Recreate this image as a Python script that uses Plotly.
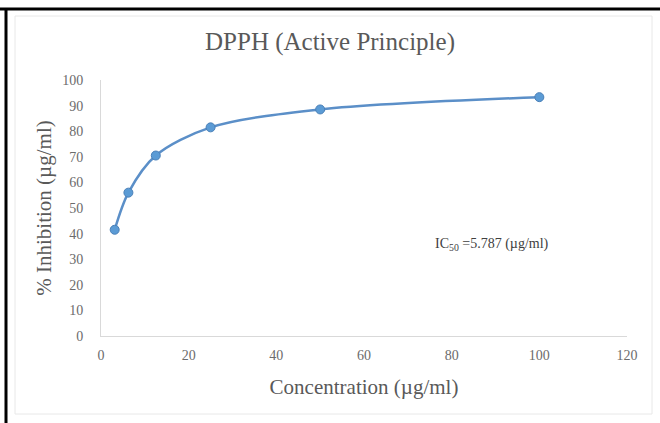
import plotly.graph_objects as go

concentration = [3.125, 6.25, 12.5, 25, 50, 100]
inhibition = [41.5, 56.0, 70.5, 81.5, 88.5, 93.3]
x_ticks = [0, 20, 40, 60, 80, 100, 120]
y_ticks = [0, 10, 20, 30, 40, 50, 60, 70, 80, 90, 100]

W, H = 660, 423
L, R, T, B = 101, 33, 80, 87
pw, ph = W - L - R, H - T - B

def px(x):
    return (x - L) / pw

def py(y):
    return (H - B - y) / ph

serif = "Liberation Serif, Times New Roman, serif"
gray = "#595959"
tick_gray = "#6b6b6b"

fig = go.Figure()
fig.add_trace(go.Scatter(
    x=concentration, y=inhibition, mode="lines+markers",
    line=dict(color="#5b8fc8", width=2.5, shape="spline", smoothing=0.9),
    marker=dict(color="#5b9bd5", size=9, line=dict(color="#4a80b8", width=1)),
    showlegend=False, cliponaxis=False,
))

fig.update_layout(
    width=W, height=H,
    margin=dict(l=L, r=R, t=T, b=B),
    paper_bgcolor="white", plot_bgcolor="white",
    font=dict(family=serif, color=gray),
    title=dict(text="DPPH (Active Principle)", x=0.5, xanchor="center",
               y=1 - 41 / H, yanchor="middle",
               font=dict(family=serif, size=25, color=gray)),
    xaxis=dict(range=[0, 120], tickvals=x_ticks, showgrid=False, zeroline=False,
               showline=True, linecolor="#d9d9d9", linewidth=1, ticks="",
               ticklabelstandoff=6,
               tickfont=dict(family=serif, size=14, color=tick_gray),
               title=dict(text="Concentration (µg/ml)", standoff=17,
                          font=dict(family=serif, size=21, color=gray))),
    yaxis=dict(range=[0, 100], tickvals=y_ticks, showgrid=False, zeroline=False,
               showline=True, linecolor="#d9d9d9", linewidth=1, ticks="",
               ticklabelstandoff=14,
               tickfont=dict(family=serif, size=14, color=tick_gray),
               title=dict(text="% Inhibition (µg/ml)", standoff=4,
                          font=dict(family=serif, size=21, color=gray))),
    annotations=[dict(
        text="IC<sub>50</sub> =5.787 (µg/ml)", x=px(433), y=py(244),
        xref="paper", yref="paper", xanchor="left", yanchor="middle",
        showarrow=False, font=dict(family=serif, size=14, color="#404040"))],
    shapes=[
        dict(type="rect", xref="paper", yref="paper",
             x0=px(15), x1=px(652), y0=py(414), y1=py(16),
             line=dict(color="#e8e8e8", width=1), layer="below"),
        dict(type="line", xref="paper", yref="paper",
             x0=px(0), x1=px(660), y0=py(9), y1=py(9),
             line=dict(color="black", width=3)),
        dict(type="line", xref="paper", yref="paper",
             x0=px(6), x1=px(6), y0=py(9), y1=py(423),
             line=dict(color="black", width=3)),
    ],
)

fig.write_html("out.html", config={"displayModeBar": False},
               post_script="document.body.style.margin='0';")
